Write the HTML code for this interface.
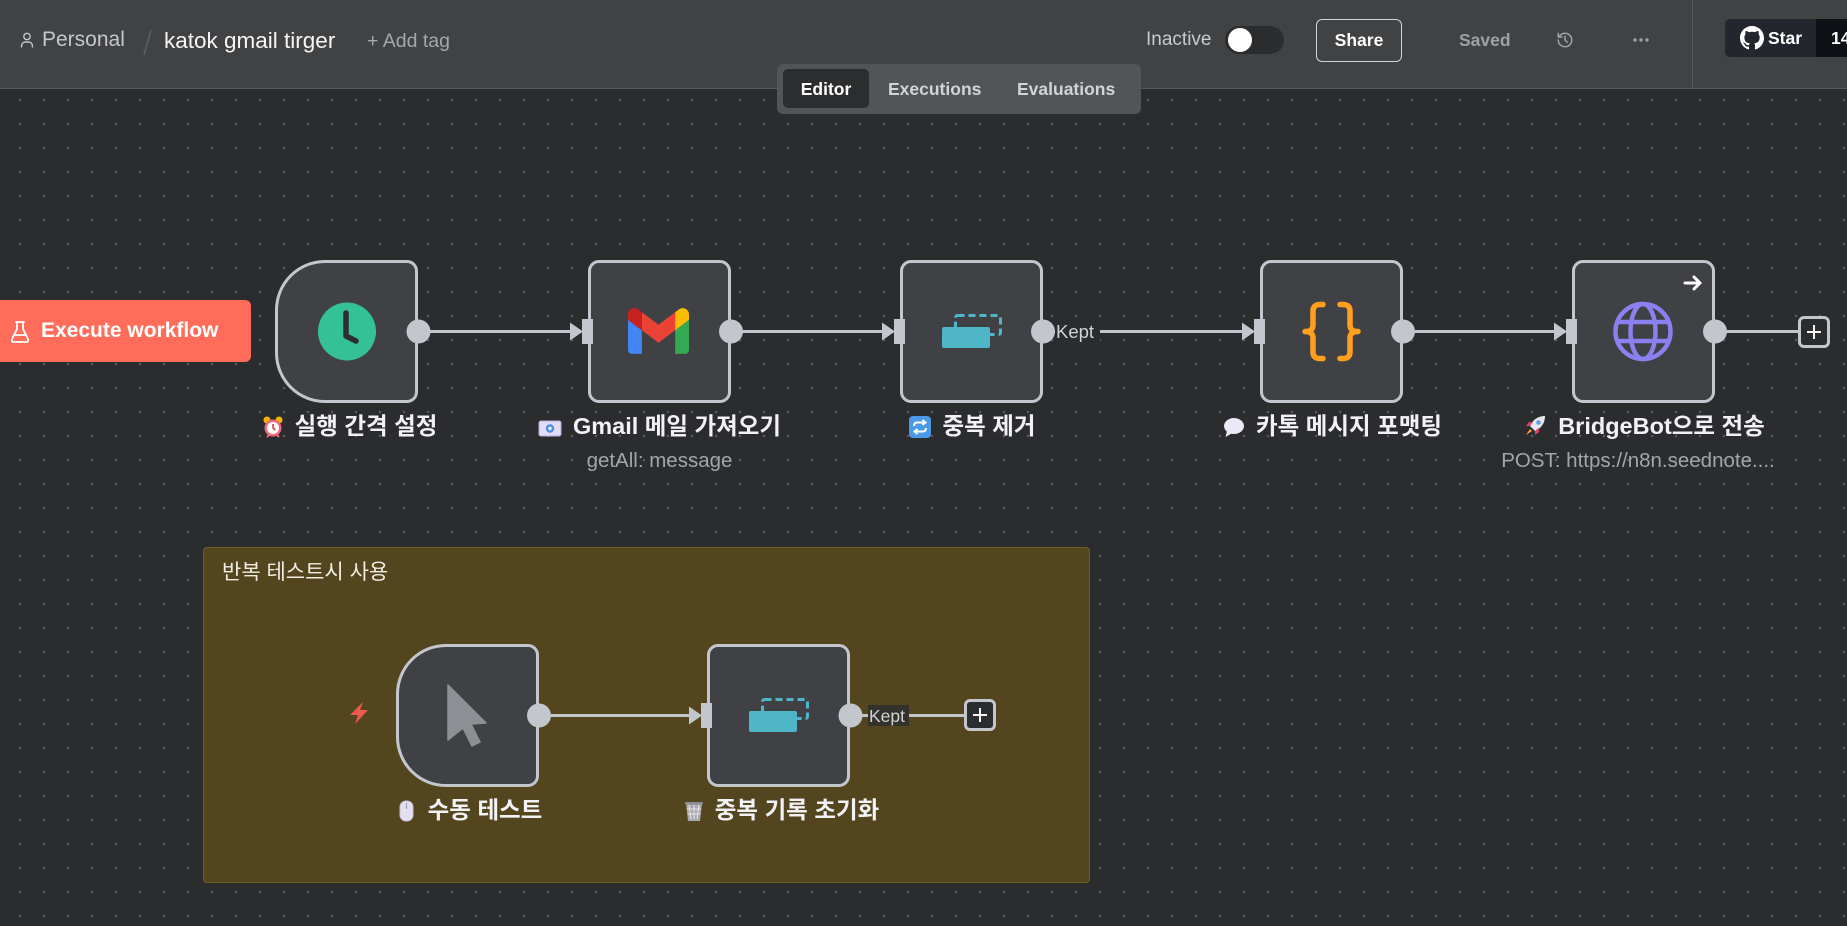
<!DOCTYPE html>
<html><head><meta charset="utf-8">
<style>
*{margin:0;padding:0;box-sizing:border-box}
html,body{width:1847px;height:926px;overflow:hidden}
body{position:relative;background-color:#2b2c2e;background-image:radial-gradient(circle at center,#5c5d61 0.9px,transparent 1.5px);background-size:24px 24px;background-position:8px -8px;font-family:"Liberation Sans","Noto Sans CJK KR",sans-serif;color:#fff}
.a{position:absolute}
.hdr{left:0;top:0;width:1847px;height:89px;background:#414244;border-bottom:1px solid #57585b}
.t{position:absolute;white-space:nowrap}
.node{position:absolute;width:143px;height:143px;background:#404144;border:3px solid #c4c6cd;border-radius:11px}
.trig{border-radius:50px 11px 11px 50px}
.lbl{position:absolute;width:440px;height:30px;line-height:30px;text-align:center;white-space:nowrap;font-weight:bold;font-size:23.5px;color:#f2f2f4}
.lbl svg{display:inline-block;vertical-align:-4px;margin-right:11px}
.sub{position:absolute;width:440px;height:24px;line-height:24px;text-align:center;white-space:nowrap;font-size:20.5px;color:#a3a5aa}
.plus{position:absolute;width:32px;height:32px;border:3px solid #c4c6cd;border-radius:6px;background:#2b2c2e}
.plus:before{content:"";position:absolute;left:6px;top:11.5px;width:14px;height:2px;background:#f2f2f2}
.plus:after{content:"";position:absolute;left:12px;top:5.5px;width:2px;height:14px;background:#f2f2f2}
</style></head><body>

<!-- HEADER -->
<div class="a hdr"></div>
<svg class="a" style="left:20px;top:32px" width="14" height="16" viewBox="0 0 14 16"><circle cx="7" cy="4.5" r="3.2" stroke="#c5c7cc" stroke-width="1.4" fill="none"/><path d="M1.5 15.5v-1.5a4 4 0 0 1 4-4h3a4 4 0 0 1 4 4v1.5" stroke="#c5c7cc" stroke-width="1.4" fill="none"/></svg>
<div class="t" style="left:42px;top:27px;font-size:21px;line-height:26px;color:#c5c7cc">Personal</div>
<svg class="a" style="left:140px;top:28px" width="14" height="30"><line x1="11" y1="2" x2="4" y2="27" stroke="#5f6064" stroke-width="1.5"/></svg>
<div class="t" style="left:164px;top:28px;font-size:22.5px;line-height:26px;color:#f5f5f6">katok gmail tirger</div>
<div class="t" style="left:367px;top:29px;font-size:19.5px;line-height:24px;color:#a5a7ac">+ Add tag</div>

<div class="a" style="left:777px;top:64px;width:364px;height:50px;background:#535457;border-radius:6px"></div>
<div class="a" style="left:783px;top:69px;width:86px;height:39px;background:#2c2d2f;border-radius:5px"></div>
<div class="t" style="left:783px;top:78px;width:86px;text-align:center;font-size:17.5px;line-height:22px;font-weight:bold;color:#fff">Editor</div>
<div class="t" style="left:888px;top:78px;font-size:17.5px;line-height:22px;font-weight:bold;color:#d2d4d9">Executions</div>
<div class="t" style="left:1017px;top:78px;font-size:17.5px;line-height:22px;font-weight:bold;color:#d2d4d9">Evaluations</div>

<div class="t" style="left:1146px;top:28px;font-size:19px;line-height:24px;color:#c9cbd0">Inactive</div>
<div class="a" style="left:1225px;top:26px;width:59px;height:28px;background:#2b2c2e;border-radius:14px"></div>
<div class="a" style="left:1228px;top:28px;width:24px;height:24px;background:#fff;border-radius:50%"></div>
<div class="a" style="left:1316px;top:19px;width:86px;height:43px;border:1.5px solid #d4d5d8;border-radius:6px"></div>
<div class="t" style="left:1316px;top:29px;width:86px;text-align:center;font-size:17.5px;line-height:22px;font-weight:bold;color:#fff">Share</div>
<div class="t" style="left:1459px;top:29px;font-size:17.5px;line-height:22px;font-weight:bold;color:#9fa1a6">Saved</div>
<svg class="a" style="left:1556px;top:31px" width="18" height="18" viewBox="0 0 24 24" fill="none" stroke="#a0a2a7" stroke-width="2" stroke-linecap="round" stroke-linejoin="round"><path d="M3 12a9 9 0 1 0 3-6.7L3 8"/><path d="M3 3v5h5"/><path d="M12 7v5l3 3"/></svg>
<svg class="a" style="left:1630px;top:36px" width="22" height="8"><circle cx="5" cy="4" r="1.7" fill="#a0a2a7"/><circle cx="11" cy="4" r="1.7" fill="#a0a2a7"/><circle cx="17" cy="4" r="1.7" fill="#a0a2a7"/></svg>
<div class="a" style="left:1692px;top:0;width:1px;height:88px;background:#55565a"></div>
<div class="a" style="left:1725px;top:19px;width:96px;height:38px;background:#23272d;border-radius:5px"></div>
<div class="a" style="left:1816px;top:19px;width:40px;height:38px;background:#0e1116"></div>
<svg class="a" style="left:1740px;top:26px" width="24" height="24" viewBox="0 0 16 16"><path fill="#fff" d="M8 0C3.58 0 0 3.58 0 8c0 3.54 2.29 6.53 5.47 7.59.4.07.55-.17.55-.38 0-.19-.01-.82-.01-1.49-2.01.37-2.53-.49-2.69-.94-.09-.23-.48-.94-.82-1.13-.28-.15-.68-.52-.01-.53.63-.01 1.08.58 1.23.82.72 1.21 1.870.87 2.33.66.07-.52.28-.87.51-1.07-1.78-.2-3.64-.89-3.64-3.95 0-.87.31-1.59.82-2.15-.08-.2-.36-1.02.08-2.12 0 0 .67-.21 2.2.82.64-.18 1.32-.27 2-.27.68 0 1.36.09 2 .27 1.53-1.04 2.2-.82 2.2-.82.44 1.1.16 1.92.08 2.12.51.56.82 1.27.82 2.15 0 3.07-1.87 3.75-3.65 3.95.29.25.54.73.54 1.48 0 1.07-.01 1.930-.01 2.2 0 .21.15.46.55.38A8.013 8.013 0 0 0 16 8c0-4.42-3.58-8-8-8z"/></svg>
<div class="t" style="left:1768px;top:27px;font-size:17.5px;line-height:22px;font-weight:bold;color:#fff">Star</div>
<div class="t" style="left:1831px;top:27px;font-size:17.5px;line-height:22px;font-weight:bold;color:#fff">14</div>

<!-- EXECUTE BUTTON -->
<div class="a" style="left:0;top:300px;width:251px;height:62px;background:#ff6d5a;border-radius:0 6px 6px 0"></div>
<svg class="a" style="left:10px;top:320px" width="20" height="24" viewBox="0 0 20 24" fill="none" stroke="#fff" stroke-width="1.8" stroke-linejoin="round" stroke-linecap="round"><path d="M6 2h8M7 2v7L2 19q-1 3 2 3h12q3 0 2-3L13 9V2"/><path d="M4.5 15h11"/></svg>
<div class="t" style="left:41px;top:319px;font-size:21px;line-height:24px;font-weight:bold;color:#fff">Execute workflow</div>

<!-- STICKY -->
<div class="a" style="left:203px;top:547px;width:887px;height:336px;background:#53461f;border:1px solid #6e5f29;border-radius:4px"></div>
<div class="t" style="left:222px;top:559px;font-size:21px;line-height:28px;color:#f1ede2">반복 테스트시 사용</div>

<!-- NODES -->
<div class="node trig" style="left:275px;top:260px"></div>
<div class="node" style="left:588px;top:260px"></div>
<div class="node" style="left:900px;top:260px"></div>
<div class="node" style="left:1260px;top:260px"></div>
<div class="node" style="left:1572px;top:260px"></div>
<div class="node trig" style="left:396px;top:644px"></div>
<div class="node" style="left:707px;top:644px"></div>

<div class="plus" style="left:1798px;top:316px"></div>
<div class="plus" style="left:964px;top:699px"></div>

<!-- OVERLAY: connectors, handles, icons -->
<svg class="a" style="left:0;top:0" width="1847" height="926">
 <g stroke="#c4c6cd" stroke-width="3">
  <line x1="430" y1="331.5" x2="575" y2="331.5"/>
  <line x1="742" y1="331.5" x2="888" y2="331.5"/>
  <line x1="1054" y1="331.5" x2="1248" y2="331.5"/>
  <line x1="1415" y1="331.5" x2="1560" y2="331.5"/>
  <line x1="1726" y1="331.5" x2="1799" y2="331.5"/>
  <line x1="551" y1="715.5" x2="695" y2="715.5"/>
  <line x1="862" y1="715.5" x2="965" y2="715.5"/>
 </g>
 <g fill="#c4c6cd">
  <polygon points="570,322.5 583,331.5 570,340.5"/><rect x="582" y="319" width="11" height="25"/>
  <polygon points="882,322.5 895,331.5 882,340.5"/><rect x="894" y="319" width="11" height="25"/>
  <polygon points="1242,322.5 1255,331.5 1242,340.5"/><rect x="1254" y="319" width="11" height="25"/>
  <polygon points="1554,322.5 1567,331.5 1554,340.5"/><rect x="1566" y="319" width="11" height="25"/>
  <polygon points="689,706.5 702,715.5 689,724.5"/><rect x="701" y="703" width="11" height="25"/>
  <circle cx="418.5" cy="331.5" r="12"/>
  <circle cx="731" cy="331.5" r="12"/>
  <circle cx="1043" cy="331.5" r="12"/>
  <circle cx="1403" cy="331.5" r="12"/>
  <circle cx="1715" cy="331.5" r="12"/>
  <circle cx="539" cy="715.5" r="12"/>
  <circle cx="850.5" cy="715.5" r="12"/>
 </g>
 <!-- Kept labels -->
 <rect x="1055" y="321" width="45" height="21" fill="#2b2c2e"/>
 <text x="1056" y="338" font-family="Liberation Sans, sans-serif" font-size="18.5" fill="#d0d2d6">Kept</text>
 <rect x="868" y="705" width="41" height="21" fill="#33312b"/>
 <text x="869" y="722" font-family="Liberation Sans, sans-serif" font-size="17.5" fill="#d0d2d6">Kept</text>

 <!-- Clock -->
 <circle cx="347" cy="331.5" r="29" fill="#35c196"/>
 <path d="M346 313 V336 L356 341" stroke="#2d2e30" stroke-width="5.5" fill="none" stroke-linecap="round" stroke-linejoin="round"/>

 <!-- Gmail -->
 <svg x="628" y="308" width="61" height="46" viewBox="52 42 88 66">
  <path fill="#4285f4" d="M58 108h14V74L52 59v43c0 3.32 2.69 6 6 6"/>
  <path fill="#34a853" d="M120 108h14c3.32 0 6-2.69 6-6V59l-20 15"/>
  <path fill="#fbbc04" d="M120 48v26l20-15v-8c0-7.42-8.47-11.65-14.4-7.2"/>
  <path fill="#ea4335" d="M72 74V48l24 18 24-18v26L96 92"/>
  <path fill="#c5221f" d="M52 51v8l20 15V48l-5.6-4.2c-5.94-4.450-14.4-.22-14.4 7.2"/>
 </svg>

 <!-- Dedupe 1 -->
 <rect x="955.5" y="315.5" width="45" height="19" rx="2" fill="none" stroke="#4fb6c8" stroke-width="3" stroke-dasharray="7 4"/>
 <rect x="942" y="327" width="48" height="21" rx="2" fill="#4fb6c8"/>
 <!-- Dedupe 2 -->
 <rect x="762.5" y="699.5" width="45" height="19" rx="2" fill="none" stroke="#4fb6c8" stroke-width="3" stroke-dasharray="7 4"/>
 <rect x="749" y="711" width="48" height="21" rx="2" fill="#4fb6c8"/>

 <!-- Code braces -->
 <g stroke="#ff9f1c" stroke-width="5.5" fill="none" stroke-linecap="round" stroke-linejoin="round">
  <path d="M1323 304.5 H1320 Q1313 304.5 1313 311 V325 Q1313 331.5 1305 331.5 Q1313 331.5 1313 338 V352 Q1313 358.5 1320 358.5 H1323"/>
  <path d="M1340 304.5 H1343 Q1350 304.5 1350 311 V325 Q1350 331.5 1358 331.5 Q1350 331.5 1350 338 V352 Q1350 358.5 1343 358.5 H1340"/>
 </g>

 <!-- Globe -->
 <g stroke="#8b80ef" stroke-width="4.5" fill="none">
  <circle cx="1643" cy="331.5" r="27.5"/>
  <ellipse cx="1643" cy="331.5" rx="12.5" ry="27.5"/>
  <line x1="1617" y1="322" x2="1669" y2="322"/>
  <line x1="1617" y1="341" x2="1669" y2="341"/>
 </g>
 <path d="M1685 283 H1700 M1694 277 L1700 283 L1694 289" stroke="#fff" stroke-width="3" fill="none" stroke-linecap="round" stroke-linejoin="round"/>

 <!-- Cursor -->
 <polygon points="448,685 486,723 471,724 480,742 472,746 463,728 448,740" fill="#8e8f95" stroke="#8e8f95" stroke-width="1.5" stroke-linejoin="round"/>
 <!-- Lightning -->
 <polygon points="363,702 350,715 358,715 355,724 368,710 360,710" fill="#ef5b4a"/>
</svg>

<!-- LABELS top row -->
<div class="lbl" style="left:129.5px;top:411px"><svg width="22" height="22" viewBox="0 0 22 22"><circle cx="5" cy="4" r="3.5" fill="#f4b400"/><circle cx="17" cy="4" r="3.5" fill="#f4b400"/><circle cx="11" cy="12" r="8.5" fill="#f06a7c"/><circle cx="11" cy="12" r="6" fill="#fff"/><path d="M11 8v4l2.5 2" stroke="#d33" stroke-width="1.5" fill="none"/><path d="M5 21l2.5-2.5M17 21l-2.5-2.5" stroke="#f06a7c" stroke-width="2"/></svg>실행 간격 설정</div>
<div class="lbl" style="left:439.5px;top:411px"><svg width="24" height="20" viewBox="0 0 24 20"><rect x="1" y="3" width="22" height="15" rx="2" fill="#e2ddf5" stroke="#b8b0dc"/><circle cx="12" cy="10.5" r="4.2" fill="#4a90e2"/><circle cx="12" cy="10.5" r="1.7" fill="#fff"/></svg>Gmail 메일 가져오기</div>
<div class="sub" style="left:439.5px;top:449px">getAll: message</div>
<div class="lbl" style="left:752.5px;top:411px"><svg width="22" height="22" viewBox="0 0 22 22"><rect width="22" height="22" rx="4" fill="#4a9ae8"/><path d="M5 10 Q5 6.5 8.5 6.5 H16 M13.5 4 L16.5 6.5 L13.5 9 M17 12 Q17 15.5 13.5 15.5 H6 M8.5 13 L5.5 15.5 L8.5 18" stroke="#fff" stroke-width="2" fill="none"/></svg>중복 제거</div>
<div class="lbl" style="left:1112.5px;top:411px"><svg width="22" height="22" viewBox="0 0 22 22"><ellipse cx="11" cy="10" rx="10" ry="8" fill="#ebe8f8"/><path d="M4 15 L2.5 21 L9.5 17z" fill="#ebe8f8"/></svg>카톡 메시지 포맷팅</div>
<div class="lbl" style="left:1424px;top:411px"><svg width="24" height="24" viewBox="0 0 24 24"><path d="M22 2 C14 2 9 7 7 12 L12 17 C17 15 22 10 22 2z" fill="#e8e4f0"/><circle cx="15.5" cy="8.5" r="2.3" fill="#5aa0e6"/><path d="M7 12 L3 12 L6 8 L10 8z" fill="#e0405a"/><path d="M12 17 L12 21 L16 18 L16 14z" fill="#e0405a"/><path d="M7 15 L3 21 L9 17z" fill="#ff9a3c"/></svg>BridgeBot으로 전송</div>
<div class="sub" style="left:1418px;top:449px">POST: https://n8n.seednote....</div>

<!-- LABELS bottom row -->
<div class="lbl" style="left:250.5px;top:795px"><svg width="15" height="22" viewBox="0 0 15 22" style="margin-right:14px"><rect x="1" y="1" width="13" height="20" rx="6" fill="#e4e0ee" stroke="#c8c2da"/><line x1="7.5" y1="3" x2="7.5" y2="9" stroke="#a89fc4" stroke-width="1.2"/></svg>수동 테스트</div>
<div class="lbl" style="left:561.5px;top:795px"><svg width="20" height="22" viewBox="0 0 20 22"><path d="M2 3 H18 L16 21 H4z" fill="#a9a9b0"/><path d="M5 5 L7 19 M10 5 V19 M15 5 L13 19 M3 9 H17 M3.5 14 H16.5" stroke="#e6e6ea" stroke-width="1"/><rect x="1" y="2" width="18" height="2.5" rx="1" fill="#8c8c94"/></svg>중복 기록 초기화</div>

</body></html>
